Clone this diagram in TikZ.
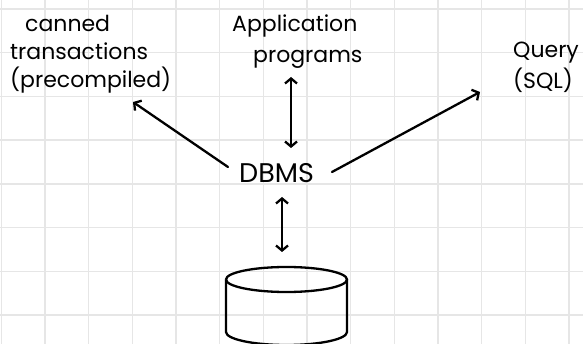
\documentclass[tikz,border=0pt]{standalone}
\usepackage{fontspec}
\setmainfont{Poppins}
\usetikzlibrary{arrows.meta}
\definecolor{gridgray}{HTML}{E6E6E6}
\tikzset{
  gridline/.style={draw=gridgray, line width=1.4pt},
  lbl/.style={inner sep=0pt, anchor=base west, font=\fontsize{22}{26}\selectfont},
  conn/.style={line width=2.3pt, {Straight Barb[length=5pt,width=12pt]}-, line cap=round},
  biconn/.style={line width=2.3pt, {Straight Barb[length=5pt,width=12pt]}-{Straight Barb[length=5pt,width=12pt]}, line cap=round},
  cyl/.style={line width=2.3pt, line join=round}
}
\begin{document}
\begin{tikzpicture}[x=1pt,y=-1pt]
\useasboundingbox (0,0) rectangle (583,344);
\clip (0,0) rectangle (583,344);
\fill[white] (0,0) rectangle (583,344);
% grid
\foreach \k in {0,...,13} {
  \draw[gridline] ({1.4+43.67*\k},0) -- ({1.4+43.67*\k},344);
}
\foreach \k in {0,...,7} {
  \draw[gridline] (0,{9+43.71*\k}) -- (583,{9+43.71*\k});
}
% labels
\node[lbl] (canned) at (25,32) {canned};
\node[lbl] (trans) at (10,60) {transactions};
\node[lbl] (precomp) at (10,88) {(precompiled)};
\node[lbl] (appl) at (232,32) {Application};
\node[lbl] (progs) at (253,63) {programs};
\node[lbl] (query) at (513,58) {Query};
\node[lbl] (sql) at (513,89) {(SQL)};
\node[inner sep=0pt, anchor=base west, font=\fontsize{27}{30}\selectfont] (dbms) at (239,183) {DBMS};
% database cylinder
\node[draw=none, minimum width=121pt, minimum height=78pt, inner sep=0pt] (db) at (286.5,306) {};
\draw[cyl] (226,279.5) arc[start angle=180, end angle=-180, x radius=60.5pt, y radius=12.5pt];
\draw[cyl] (226,279.5) -- (226,332) arc[start angle=180, end angle=360, x radius=60.5pt, y radius=13pt] -- (347,279.5);
% connector ends
\coordinate (cannedTip) at (133,102);
\coordinate (dbmsL) at (228,167);
\coordinate (progsB) at (291,77);
\coordinate (dbmsT) at (291,148);
\coordinate (dbmsR) at (332,172);
\coordinate (queryTip) at (480,92);
\coordinate (dbmsB) at (282,197);
\coordinate (dbT) at (282,252);
% connectors
\draw[conn] (cannedTip) -- (dbmsL);
\draw[biconn] (progsB) -- (dbmsT);
\draw[conn] (queryTip) -- (dbmsR);
\draw[biconn] (dbmsB) -- (dbT);
\end{tikzpicture}
\end{document}
